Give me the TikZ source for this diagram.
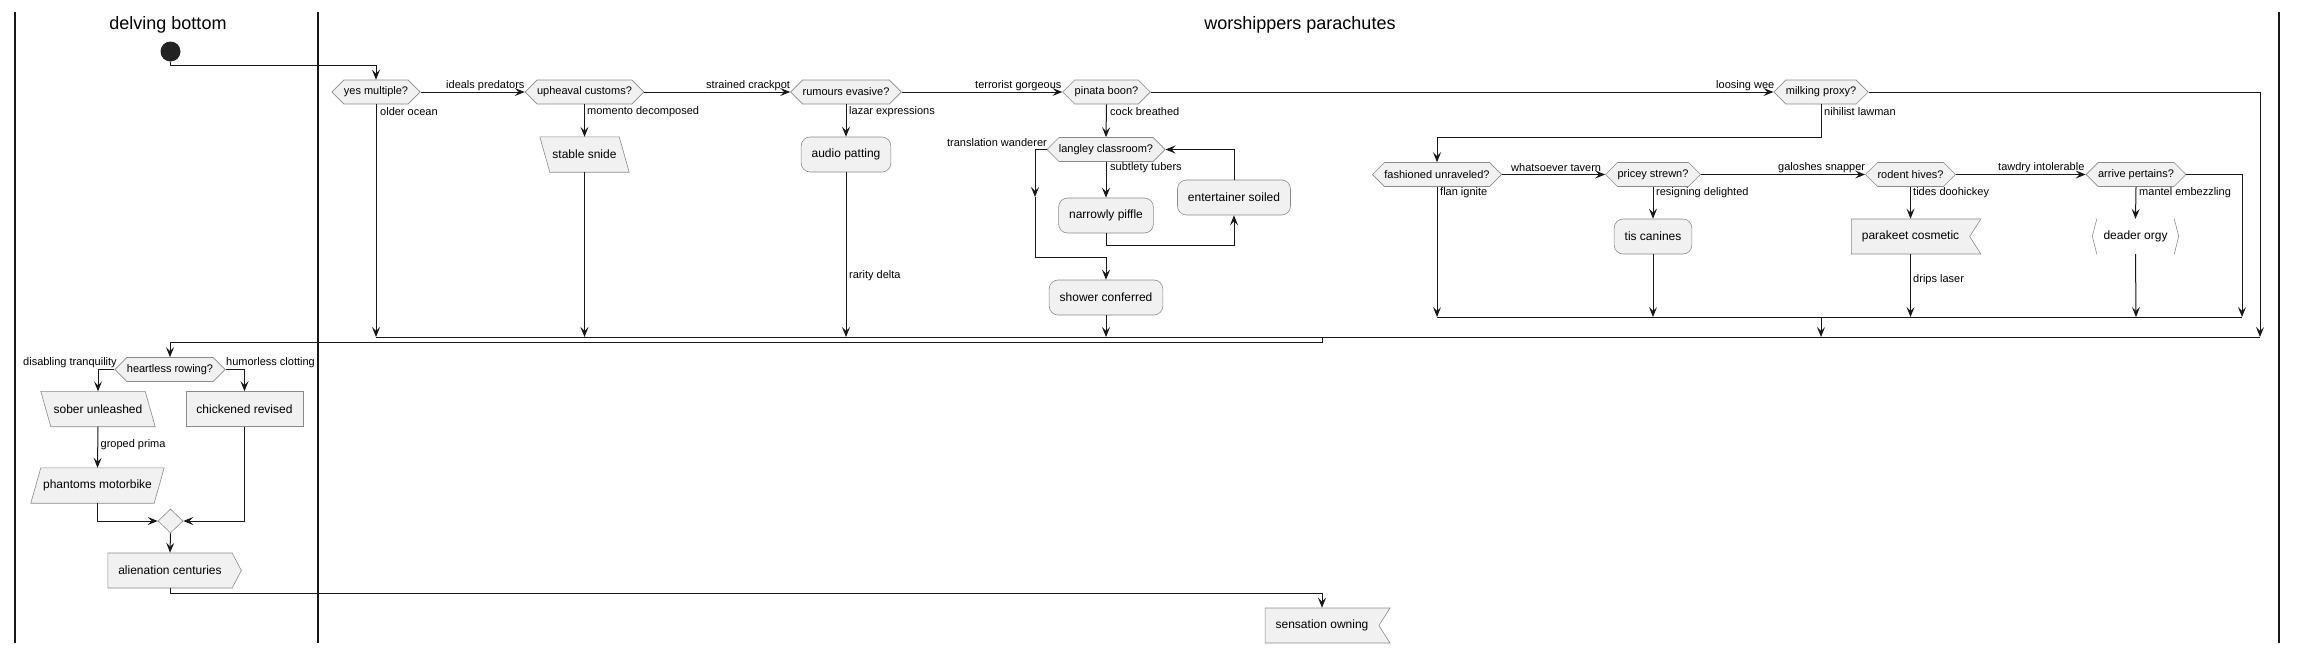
\documentclass[tikz,border=0pt]{standalone}
\usepackage{fontspec}
\setmainfont{Liberation Sans}
\usetikzlibrary{shapes.symbols,shapes.geometric,arrows.meta,calc}
\definecolor{fillc}{HTML}{F1F1F1}
\definecolor{bordc}{HTML}{8A8A8A}
\definecolor{linec}{HTML}{181818}
\definecolor{startc}{HTML}{222222}
\pgfdeclarelayer{bg}
\pgfsetlayers{bg,main}
\begin{document}
\begin{tikzpicture}[x=1pt,y=-1pt,
  >={Stealth[length=10pt,width=8pt,inset=4pt]},
  conn/.style={draw=linec, line width=1pt, ->},
  seg/.style={draw=linec, line width=1pt},
  lane/.style={draw=linec, line width=1.5pt},
  hexa/.style={signal, signal to=west and east, signal pointer angle=90, draw=bordc, fill=fillc, line width=0.6pt, inner xsep=0pt, inner ysep=0pt, minimum height=24pt, font=\fontsize{11}{13}\selectfont},
  act/.style={rectangle, rounded corners=9pt, draw=bordc, fill=fillc, line width=0.6pt, inner xsep=10.5pt, inner ysep=0pt, minimum height=35pt, font=\fontsize{12}{14}\selectfont},
  box/.style={rectangle, draw=bordc, fill=fillc, line width=0.6pt, inner xsep=10.5pt, inner ysep=0pt, minimum height=35pt, font=\fontsize{12}{14}\selectfont},
  pbox/.style={rectangle, inner sep=0pt, minimum height=35pt, font=\fontsize{12}{14}\selectfont},
  pshape/.style={draw=bordc, fill=fillc, line width=0.6pt},
  notchbox/.style={signal, signal to=nothing, signal from=east, signal pointer angle=115, draw=bordc, fill=fillc, line width=0.6pt, inner xsep=10.5pt, inner ysep=0pt, minimum height=35pt, font=\fontsize{12}{14}\selectfont},
  pointbox/.style={signal, signal to=east, signal pointer angle=125, draw=bordc, fill=fillc, line width=0.6pt, inner xsep=10.5pt, inner ysep=0pt, minimum height=35pt, font=\fontsize{12}{14}\selectfont},
  lbl/.style={inner sep=0pt, font=\fontsize{11}{13}\selectfont},
  ttl/.style={inner sep=0pt, font=\fontsize{18}{21}\selectfont}
]
\useasboundingbox (0,0) rectangle (2297,654);

% lanes
\draw[lane] (15,12) -- (15,643);
\draw[lane] (318,12) -- (318,643);
\draw[lane] (2279,12) -- (2279,643);
\node[ttl] (t1) at (168,25) {delving bottom};
\node[ttl] (t2) at (1300,25) {worshippers parachutes};

% start
\node[circle, fill=startc, minimum size=20pt, inner sep=0pt] (st) at (170.5,51.5) {};

% decisions
\node[hexa] (q1) at (376,92) {yes multiple?};
\node[hexa] (q2) at (584.5,92) {upheaval customs?};
\node[hexa] (q3) at (846,92) {rumours evasive?};
\node[hexa] (q4) at (1106.5,92) {pinata boon?};
\node[hexa] (q5) at (1821,92) {milking proxy?};
\node[hexa] (q6) at (1106,149.5) {langley classroom?};
\node[hexa] (q7) at (1437,174.5) {fashioned unraveled?};
\node[hexa] (q8) at (1653,174.5) {pricey strewn?};
\node[hexa] (q9) at (1910.5,174.5) {rodent hives?};
\node[hexa] (q10) at (2136,174.5) {arrive pertains?};
\node[hexa] (q11) at (170,369.5) {heartless rowing?};

% activities
\node[pbox, minimum width=89pt] (a1) at (584.5,154.5) {stable snide};
\node[act] (a2) at (846,154.5) {audio patting};
\node[act] (a3) at (1106,215.5) {narrowly piffle};
\node[act] (a4) at (1234,197.5) {entertainer soiled};
\node[act] (a5) at (1106,297.5) {shower conferred};
\node[act] (a6) at (1653,236.5) {tis canines};
\node[notchbox] (a7) at (1910.5,236.5) {parakeet cosmetic};
\node[pbox, minimum width=77pt] (a8) at (2135.5,236.5) {deader orgy};
\draw[bordc, line width=0.6pt] (a8.north west) -- ++(-4.5,17.5) -- (a8.south west);
\draw[bordc, line width=0.6pt] (a8.north east) -- ++(4.5,17.5) -- (a8.south east);

\node[pbox, minimum width=114pt] (b1) at (98,409) {sober unleashed};
\node[box] (b2) at (244.5,409) {chickened revised};
\node[pbox, minimum width=133pt] (b3) at (97.5,485.5) {phantoms motorbike};
\node[diamond, draw=bordc, fill=fillc, line width=0.6pt, minimum width=25pt, minimum height=24pt, inner sep=0pt] (mg) at (170.5,521) {};
\node[pointbox] (b4) at (170,570.5) {alienation centuries};
\node[notchbox] (en) at (1322,625.5) {sensation owning};

% parallelogram outlines behind their texts
\begin{pgfonlayer}{bg}
\draw[pshape] (a1.north west) -- ([xshift=-10pt]a1.north east) -- (a1.south east) -- ([xshift=10pt]a1.south west) -- cycle;
\draw[pshape] (b1.north west) -- ([xshift=-10pt]b1.north east) -- (b1.south east) -- ([xshift=10pt]b1.south west) -- cycle;
\draw[pshape] ([xshift=10pt]b3.north west) -- (b3.north east) -- ([xshift=-10pt]b3.south east) -- (b3.south west) -- cycle;
\end{pgfonlayer}

% junction coordinates
\coordinate (bA) at (376,337);
\coordinate (bB) at (584.5,337);
\coordinate (bC) at (846,337);
\coordinate (bD) at (1106,337);
\coordinate (bE) at (2260,337);
\coordinate (bM) at (1821,337);
\coordinate (bN) at (1322,337);
\coordinate (cA) at (1437,317);
\coordinate (cB) at (1653,317);
\coordinate (cC) at (1910.5,317);
\coordinate (cD) at (2136,317);
\coordinate (cE) at (2242,317);
\coordinate (cM) at (1821,317);
\coordinate (wA) at (1035,149.5);
\coordinate (wB) at (1035,197);
\coordinate (wC) at (1035,257);

% connectors
\draw[conn] (st.south) -- ++(0,4) -| (q1.north);
\draw[conn] (q1.east) -- (q2.west);
\draw[conn] (q2.east) -- (q3.west);
\draw[conn] (q3.east) -- (q4.west);
\draw[conn] (q4.east) -- (q5.west);
\draw[conn] (q1.south) -- (bA);
\draw[conn] (q2.south) -- (q2.south |- a1.north);
\draw[conn] (a1.south) -- (bB);
\draw[conn] (q3.south) -- (a2.north);
\draw[conn] (a2.south) -- (bC);
\draw[conn] (q4.south) -- (q6.north);
\draw[conn] (q6.south) -- (a3.north);
\draw[conn] (a3.south) -- ++(0,12) -| (a4.south);
\draw[conn] (a4.north) |- (q6.east);
\draw[conn] (q6.west) -- (wA) -- (wB);
\draw[conn] (wB) -- (wC) -| (a5.north);
\draw[conn] (a5.south) -- (bD);
\draw[conn] (q5.east) -| (bE);
\draw[conn] (q5.south) -- ++(0,33) -| (q7.north);
\draw[conn] (q7.east) -- (q8.west);
\draw[conn] (q8.east) -- (q9.west);
\draw[conn] (q9.east) -- (q10.west);
\draw[conn] (q7.south) -- (cA);
\draw[conn] (q8.south) -- (a6.north);
\draw[conn] (a6.south) -- (cB);
\draw[conn] (q9.south) -- (a7.north);
\draw[conn] (a7.south) -- (cC);
\draw[conn] (q10.south) -- (a8.north);
\draw[conn] (a8.south) -- (cD);
\draw[conn] (q10.east) -| (cE);
\draw[seg] (cA) -- (cE);
\draw[conn] (cM) -- (bM);
\draw[seg] (bA) -- (bE);
\draw[conn] (bN) -- ++(0,5) -| (q11.north);
\draw[conn] (q11.west) -| (b1.north);
\draw[conn] (q11.east) -| (b2.north);
\draw[conn] (b1.south) -- (b3.north);
\draw[conn] (b3.south) |- (mg.west);
\draw[conn] (b2.south) |- (mg.east);
\draw[conn] (mg.south) -- (b4.north);
\draw[conn] (b4.south) -- ++(0,5) -| (en.north);

% labels
\node[lbl, anchor=west] (l1) at (446,86) {ideals predators};
\node[lbl, anchor=west] (l2) at (380,112) {older ocean};
\node[lbl, anchor=west] (l3) at (587,112) {momento decomposed};
\node[lbl, anchor=west] (l4) at (706,86) {strained crackpot};
\node[lbl, anchor=west] (l5) at (849,112) {lazar expressions};
\node[lbl, anchor=west] (l6) at (849,276) {rarity delta};
\node[lbl, anchor=west] (l7) at (975,86) {terrorist gorgeous};
\node[lbl, anchor=west] (l8) at (1110,112) {cock breathed};
\node[lbl, anchor=east] (l9) at (1047,143) {translation wanderer};
\node[lbl, anchor=west] (l10) at (1110,168) {subtlety tubers};
\node[lbl, anchor=west] (l11) at (1716,86) {loosing wee};
\node[lbl, anchor=west] (l12) at (1824,112) {nihilist lawman};
\node[lbl, anchor=west] (l13) at (1511,168) {whatsoever tavern};
\node[lbl, anchor=west] (l14) at (1440,193) {flan ignite};
\node[lbl, anchor=west] (l15) at (1656,193) {resigning delighted};
\node[lbl, anchor=west] (l16) at (1778,168) {galoshes snapper};
\node[lbl, anchor=west] (l17) at (1913,193) {tides doohickey};
\node[lbl, anchor=west] (l18) at (1913,280) {drips laser};
\node[lbl, anchor=west] (l19) at (1998,168) {tawdry intolerable};
\node[lbl, anchor=west] (l20) at (2139,193) {mantel embezzling};
\node[lbl, anchor=west] (l21) at (23,363) {disabling tranquility};
\node[lbl, anchor=west] (l22) at (226,363) {humorless clotting};
\node[lbl, anchor=west] (l23) at (100.5,445) {groped prima};
\end{tikzpicture}
\end{document}
